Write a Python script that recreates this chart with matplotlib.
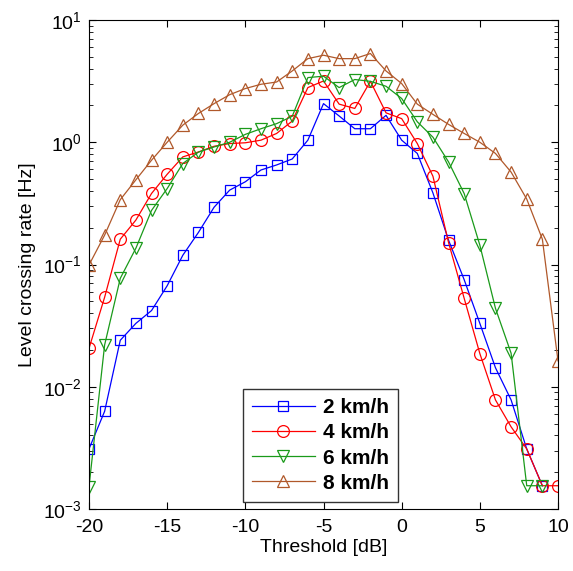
import numpy as np
import matplotlib
matplotlib.use("Agg")
import matplotlib.pyplot as plt
from matplotlib.ticker import LogLocator, NullFormatter

plt.rcParams['font.family'] = ['Liberation Sans', 'DejaVu Sans']
plt.rcParams['axes.unicode_minus'] = False

# data: level crossing rate [Hz] vs threshold [dB]
thr = list(range(-20, 11))
thr_9 = list(range(-20, 10))

rate_2 = [3.1e-3, 6.3e-3, 0.024, 0.033, 0.042, 0.067, 0.119, 0.183, 0.294, 0.406,
          0.475, 0.593, 0.652, 0.73, 1.04, 2.07, 1.64, 1.29, 1.29, 1.66,
          1.04, 0.81, 0.385, 0.158, 0.075, 0.033, 0.0143, 7.8e-3, 3.1e-3, 1.55e-3]
rate_4 = [0.0206, 0.054, 0.161, 0.231, 0.381, 0.547, 0.759, 0.833, 0.927, 0.976,
          0.99, 1.04, 1.18, 1.49, 2.8, 3.17, 2.05, 1.89, 3.15, 1.74,
          1.56, 0.976, 0.527, 0.151, 0.0528, 0.0187, 7.8e-3, 4.7e-3, 3.1e-3, 1.55e-3,
          1.55e-3]
rate_6 = [1.52e-3, 0.022, 0.077, 0.136, 0.277, 0.418, 0.67, 0.83, 0.915, 1.0,
          1.16, 1.29, 1.42, 1.63, 3.38, 3.47, 2.8, 3.26, 3.15, 2.87,
          2.28, 1.47, 1.1, 0.69, 0.38, 0.144, 0.0438, 0.0188, 1.55e-3, 1.55e-3]
rate_8 = [0.099, 0.174, 0.339, 0.493, 0.713, 1.0, 1.38, 1.72, 2.07, 2.45,
          2.75, 2.98, 3.11, 3.83, 4.83, 5.15, 4.83, 4.83, 5.32, 3.83,
          3.02, 2.05, 1.69, 1.40, 1.18, 1.0, 0.81, 0.57, 0.343, 0.161,
          0.0163]

labels = ['2 km/h', '4 km/h', '6 km/h', '8 km/h']
colors = ['#0000ff', '#ff0000', '#1a9a1a', '#b0582a']

fig = plt.figure(figsize=(5.73, 5.71), dpi=100)
ax = fig.add_axes([89 / 573, 62 / 571, 469 / 573, 489 / 571])

ax.plot(thr_9, rate_2, '-s', color=colors[0], mfc='none', ms=7, lw=0.9, mew=0.9, label=labels[0])
ax.plot(thr, rate_4, '-o', color=colors[1], mfc='none', ms=8.5, lw=0.9, mew=0.9, label=labels[1])
ax.plot(thr_9, rate_6, '-v', color=colors[2], mfc='none', ms=9, lw=0.9, mew=0.9, label=labels[2])
ax.plot(thr, rate_8, '-^', color=colors[3], mfc='none', ms=9, lw=0.9, mew=0.9, label=labels[3])

ax.set_yscale('log')
ax.set_xlim(-20, 10)
ax.set_ylim(1e-3, 1e1)
ax.set_xticks(np.arange(-20, 11, 5))
ax.yaxis.set_major_locator(LogLocator(base=10, numticks=10))
ax.yaxis.set_minor_locator(LogLocator(base=10, subs=np.arange(2, 10), numticks=20))
ax.yaxis.set_minor_formatter(NullFormatter())
ax.tick_params(which='both', direction='in', top=True, right=True, labelsize=14)
ax.tick_params(which='major', length=5, width=0.8)
ax.tick_params(which='minor', length=3, width=0.6)
ax.tick_params(axis='x', pad=7)
ax.tick_params(axis='y', pad=5)
for s in ax.spines.values():
    s.set_linewidth(0.8)

ax.set_xlabel('Threshold [dB]', fontsize=14, labelpad=2)
ax.set_ylabel('Level crossing rate [Hz]', fontsize=14, labelpad=5)

leg = ax.legend(loc='lower left', bbox_to_anchor=(0.328, 0.014), borderaxespad=0,
                numpoints=1, handlelength=3.0, handletextpad=0.4, labelspacing=0.3,
                borderpad=0.45, fancybox=False, edgecolor='#333333', framealpha=1,
                prop={'weight': 'bold', 'size': 15})
leg.get_frame().set_linewidth(1.0)

fig.savefig('out.png', dpi=100)
